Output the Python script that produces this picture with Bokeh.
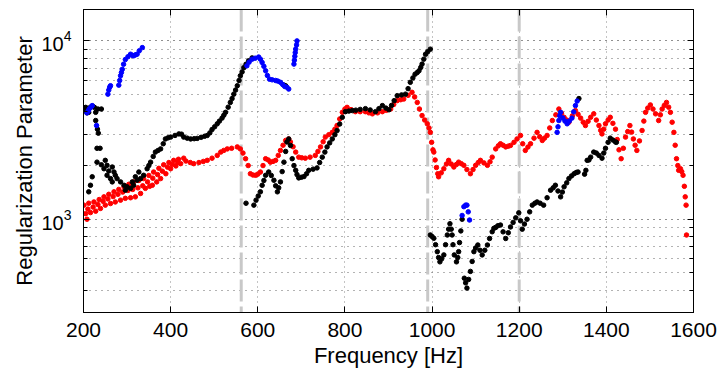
from bokeh.plotting import figure
from bokeh.models import (FixedTicker, LinearAxis, LogAxis, Span, CustomJSTickFormatter, Range1d,
                          LogTickFormatter)
from bokeh.embed import file_html
from bokeh.resources import INLINE

# ---------------- data ----------------
x_ticks = [200, 400, 600, 800, 1000, 1200, 1400, 1600]
y_major = [1000, 10000]
y_minor = [300, 400, 500, 600, 700, 800, 900, 2000, 3000, 4000, 5000, 6000, 7000, 8000, 9000]
boundaries = [562, 990, 1200]

red_f = [
    # low band, upper row
    201, 212, 224, 236, 247, 258, 270, 281, 293, 304, 315, 327, 338, 350, 361, 373, 384, 396, 407, 418, 430,
    # low band, middle row
    210, 222, 233, 245, 256, 268, 279, 290, 302, 313, 325, 336, 347, 359, 370, 381, 393, 404, 416,
    # low band, lower row
    205, 208, 216, 228, 239, 250, 262, 273, 285, 296, 308, 319, 331, 342, 352, 358, 368, 377, 389, 400, 412, 423,
    # main curve
    435, 445, 453, 465, 475, 484, 495, 507, 515, 522, 530, 540, 553, 560, 566, 572, 578, 583, 589, 595,
    600, 606, 612, 618, 624, 629, 635, 641, 647, 652, 658, 664, 671, 675, 681, 687, 694, 701, 709, 720,
    732, 738, 744, 750, 755, 763, 771, 777, 782, 788, 794, 800, 805, 814, 824, 835, 847, 855, 863, 875,
    886, 895, 905, 912, 920, 928, 935, 945, 954, 960, 966, 971, 977, 983, 989, 993, 996, 999, 1002, 1004,
    1007, 1010, 1013, 1015, 1021, 1027, 1033, 1038, 1044, 1050, 1056, 1061, 1067, 1073, 1080, 1088, 1094,
    1100, 1106, 1111, 1119, 1127, 1133, 1138, 1146, 1152, 1157, 1163, 1169, 1175, 1180, 1188, 1195, 1203,
    1208, 1214, 1220, 1226, 1234, 1241, 1247, 1253, 1258, 1264, 1270, 1276, 1284, 1291, 1297, 1303, 1309,
    1314, 1322, 1329, 1335, 1341, 1347, 1352, 1358, 1364, 1371, 1377, 1383, 1387, 1390, 1394, 1398, 1404,
    1409, 1415, 1421, 1425, 1429, 1434, 1439, 1444, 1449, 1454, 1458, 1462, 1466, 1470, 1476, 1482, 1486,
    1490, 1495, 1501, 1507, 1513, 1520, 1524, 1528, 1533, 1538, 1543, 1547, 1551, 1555, 1558, 1561, 1564,
    1566, 1570, 1573, 1576, 1579, 1581, 1583, 1584,
]
red_v = [
    1200, 1230, 1250, 1290, 1335, 1380, 1425, 1470, 1520, 1570, 1620, 1650, 1690, 1760, 1840, 1930, 2020, 2080, 2139, 2170, 2200,
    1140, 1170, 1210, 1260, 1300, 1340, 1380, 1420, 1450, 1470, 1500, 1540, 1620, 1700, 1780, 1860, 1960, 2030, 2080,
    1075, 1000, 1090, 1110, 1150, 1200, 1225, 1250, 1280, 1310, 1320, 1335, 1395, 1490, 1530, 1551, 1620, 1690, 1800, 1920, 1990, 2050,
    2120, 2080, 2050, 2080, 2110, 2139, 2200, 2281, 2380, 2432, 2480, 2500, 2545, 2480, 2350, 2185, 2000, 1800, 1770, 1764,
    1790, 1840, 2000, 2185, 2150, 2090, 2110, 2139, 2280, 2432, 2600, 2766, 2820, 2710, 2550, 2380, 2230, 2210, 2200, 2230,
    2281, 2400, 2545, 2720, 2888, 2980, 3070, 3200, 3354, 3650, 3976, 4150, 4240, 4120, 4010, 4010, 4010, 3950, 3900, 3950,
    4010, 4080, 4150, 4400, 4625, 4680, 4720, 4950, 5150, 4850, 4520, 4150, 3814, 3600, 3430, 3250, 3070, 2700, 2450, 2380,
    2150, 1950, 1800, 1730, 1820, 1920, 2040, 2139, 2040, 1963, 2030, 2090, 2050, 2006, 1900, 1800, 1900,
    2006, 2080, 2139, 2070, 2006, 2100, 2230, 2480, 2580, 2650, 2600, 2545, 2570, 2594, 2700, 2820, 2950,
    2650, 2432, 2540, 2650, 2850, 3070, 2900, 2766, 2850, 2950, 3250, 3577, 3850, 4150, 3930, 3730, 3600,
    3500, 3800, 4067, 3880, 3690, 3500, 3354, 3540, 3730, 3900, 3600, 3354, 3150, 3010, 3200, 3430, 3600,
    3730, 3450, 3200, 2800, 2450, 2185, 2500, 2888, 3100, 3354, 3080, 2820, 2600, 2432, 2750, 3145, 3550,
    3976, 4200, 4375, 4150, 3900, 3577, 3850, 4150, 4350, 4520, 4250, 3976, 3500, 3070, 2600, 2185, 2000,
    1881, 1920, 1850, 1764, 1530, 1335, 1200, 816,
]

black_f = [
    # start, 200-350 Hz
    201, 205, 208, 212, 216, 221, 225, 228, 233, 241, 228, 232, 234, 231, 238,
    212, 216, 220, 231, 241, 250, 254, 247, 258, 266, 270, 273, 254, 262, 277, 285, 266,
    293, 300, 308, 296, 312, 315, 319, 323, 327, 331, 338,
    # rise to the first peak
    346, 350, 354, 360, 365, 371, 377, 383, 388, 394, 400, 410, 419, 425, 430, 438, 446, 454, 461, 470,
    478, 484, 490, 495, 501, 507, 512, 518, 522, 526, 532, 537, 541, 545, 549, 553, 557, 560, 564, 568,
    573, 579, 587, 660, 664,
    # 570-1000 Hz
    573, 591, 596, 601, 606, 610, 614, 618, 625, 631, 637, 641, 645, 648, 652, 656, 660, 664, 667, 671,
    675, 679, 683, 687, 690, 694, 700, 706, 712, 717, 727, 736, 742, 748, 754, 759, 765, 771, 777, 782,
    788, 794, 801, 809, 817, 825, 835, 847, 858, 870, 878, 886, 894, 901, 907, 913, 920, 930, 939, 945,
    950, 956, 961, 966, 970, 974, 977, 981, 985, 990, 996,
    # 1000-1425 Hz
    996, 1000, 1004, 1008, 1012, 1015, 1018, 1022, 1027, 1031, 1035, 1038, 1041, 1044, 1046, 1048, 1051,
    1056, 1059, 1061, 1063, 1066, 1069, 1074, 1077, 1080, 1084, 1088, 1092, 1096, 1100, 1105, 1110, 1115,
    1121, 1127, 1132, 1138, 1142, 1146, 1151, 1157, 1163, 1169, 1175, 1180, 1186, 1192, 1199, 1203, 1207,
    1212, 1218, 1224, 1230, 1236, 1241, 1248, 1256, 1264, 1272, 1278, 1283, 1289, 1295, 1299, 1303, 1309,
    1314, 1320, 1326, 1331, 1335, 1337, 1350, 1353, 1356, 1360, 1364, 1371, 1377, 1383, 1390, 1394, 1398,
    1404, 1409, 1415, 1421, 1423,
]
black_v = [
    4067, 4240, 3950, 3976, 4250, 4300, 4240, 3976, 4150, 4150, 3577, 3200, 3040, 2500, 2500,
    1425, 1551, 1730, 2090, 2020, 2139, 2006, 1920, 1865, 1963, 1840, 1764, 1764, 1690, 1690, 1620, 1620,
    1551, 1520, 1490, 1455, 1620, 1551, 1730, 1654, 1840, 1690, 1764,
    1920, 2000, 2090, 2250, 2380, 2430, 2480, 2650, 2820, 2860, 2888, 2950, 3010, 3000, 2888, 2850, 2820, 2830, 2840, 2880,
    2920, 2950, 3050, 3185, 3300, 3430, 3550, 3690, 3830, 3976, 4250, 4520, 4750, 5030, 5300, 5608, 6000, 6377, 6700, 7080,
    7400, 7733, 8030, 5650, 5600,
    1230, 1200, 1280, 1350, 1425, 1550, 1650, 1764, 1840, 1760, 1654, 1540, 1425, 1500, 1620, 1850, 2090, 2400, 2710, 2820,
    2594, 2185, 2000, 1881, 1780, 1705, 1720, 1735, 1800, 1881, 1910, 1940, 2080, 2230, 2380, 2545, 2680, 2820, 2980, 3145,
    3420, 3730, 4010, 4040, 4067, 4090, 4130, 4170, 4100, 4010, 4170, 4337, 4200, 4110, 4350, 4625, 4932, 4980, 5030, 5400,
    5860, 6200, 6510, 6650, 6800, 7100, 7410, 7900, 8420, 8700, 8990,
    816, 800, 782, 720, 658, 610, 577, 600, 631, 720, 816, 880, 944, 880, 816, 720, 631,
    577, 610, 658, 740, 860, 1000, 467, 440, 411, 460, 510, 580, 658, 690, 717, 670, 631,
    670, 717, 780, 851, 890, 900, 920, 928, 850, 780, 840, 905, 960, 1018, 1086, 980, 880,
    940, 1000, 1100, 1200, 1230, 1250, 1230, 1200, 1320, 1455, 1500, 1551, 1440, 1335, 1420, 1520, 1600,
    1690, 1750, 1800, 1830, 1840, 4750, 1790, 1880, 2139, 2150, 2230, 2380, 2350, 2281, 2200, 2350, 2500,
    2700, 2850, 2780, 2710, 2700,
]

blue_f = [
    208, 211, 213, 217, 220, 230, 256, 258, 260, 262, 281, 283, 285, 287, 289, 292, 296, 302, 308, 312,
    315, 319, 323, 328, 335,
    575, 580, 587, 594, 602, 606, 610, 614, 618, 622, 627, 633, 641, 646, 652, 657, 662, 667, 671,
    683, 684, 685, 686, 687, 689, 690,
    1069, 1073, 1077, 1080, 1083, 1086,
    1287, 1289, 1291, 1293, 1295, 1300, 1305, 1310, 1315, 1321, 1325, 1329, 1333,
]
blue_v = [
    3950, 4050, 4150, 4250, 4337, 3354, 5030, 5300, 5500, 5608, 5650, 6000, 6377, 6650, 6930, 7400, 7860, 8150, 8420, 8300,
    8246, 8350, 8420, 8800, 9170,
    7250, 7600, 7900, 8000, 8120, 7900, 7570, 7200, 6800, 6400, 6100, 6050, 6000, 5950, 5860, 5700, 5550, 5490, 5370,
    7410, 7800, 8200, 8600, 9000, 9500, 10000,
    1050, 1176, 1200, 1200, 1100, 990,
    3070, 3300, 3577, 3800, 3976, 3700, 3550, 3430, 3550, 3690, 4000, 4337, 4600,
]

# ---------------- figure ----------------
FONT = "Liberation Sans"

p = figure(width=718, height=370, x_range=Range1d(200, 1600), y_range=Range1d(300, 15000),
           y_axis_type="log", output_backend="svg", toolbar_location=None,
           min_border_left=83, min_border_right=25, min_border_top=9, min_border_bottom=58)
p.background_fill_color = "white"
p.border_fill_color = "white"
p.outline_line_color = "black"
p.outline_line_width = 1

xticker = FixedTicker(ticks=x_ticks, minor_ticks=[])
yticker = FixedTicker(ticks=y_major, minor_ticks=y_minor)

xa = p.xaxis[0]
xa.ticker = xticker
xa.axis_label = "Frequency [Hz]"
ya = p.yaxis[0]
ya.ticker = yticker
ya.formatter = LogTickFormatter()
ya.axis_label = "Regularization Parameter"

for ax in (xa, ya):
    ax.axis_line_color = "black"
    ax.major_tick_in = 6
    ax.major_tick_out = 0
    ax.minor_tick_in = 4
    ax.minor_tick_out = 0
    ax.major_tick_line_color = "black"
    ax.minor_tick_line_color = "black"
    ax.major_label_text_font = FONT
    ax.major_label_text_color = "black"
    ax.axis_label_text_font = FONT
    ax.axis_label_text_font_style = "normal"
    ax.axis_label_text_font_size = "22px"
    ax.axis_label_text_color = "black"

xa.major_label_text_font_size = "21px"
xa.major_label_standoff = 10
xa.axis_label_standoff = 3
ya.major_label_text_font_size = "20px"
ya.major_label_standoff = 12
ya.axis_label_standoff = 1

empty = CustomJSTickFormatter(code="return '';")
top = LinearAxis(ticker=xticker, formatter=empty, major_tick_in=6, major_tick_out=0,
                 minor_tick_in=0, minor_tick_out=0, major_label_text_font_size="0px",
                 major_label_standoff=0, axis_line_color="black")
right = LogAxis(ticker=yticker, formatter=empty, major_tick_in=6, major_tick_out=0,
                minor_tick_in=4, minor_tick_out=0, major_label_text_font_size="0px",
                major_label_standoff=0, axis_line_color="black")
p.add_layout(top, "above")
p.add_layout(right, "right")

# grid
p.xgrid.ticker = xticker
p.xgrid.grid_line_color = "#888888"
p.xgrid.grid_line_dash = "1 4"
p.ygrid.ticker = yticker
p.ygrid.grid_line_color = "#222222"
p.ygrid.grid_line_dash = "1 5"
p.ygrid.minor_grid_line_color = "#666666"
p.ygrid.minor_grid_line_dash = "1 5"

for b in boundaries:
    p.add_layout(Span(location=b, dimension="height", line_color="#c8c8c8",
                      line_width=3, line_dash="22 5", level="underlay"))

p.scatter(red_f, red_v, marker="circle", size=4.5, color="#ff0000")
p.scatter(black_f, black_v, marker="circle", size=4.5, color="#000000")
p.scatter(blue_f, blue_v, marker="circle", size=4.5, color="#0000ff")

with open("out.html", "w", encoding="utf-8") as fh:
    fh.write(file_html(p, INLINE))
